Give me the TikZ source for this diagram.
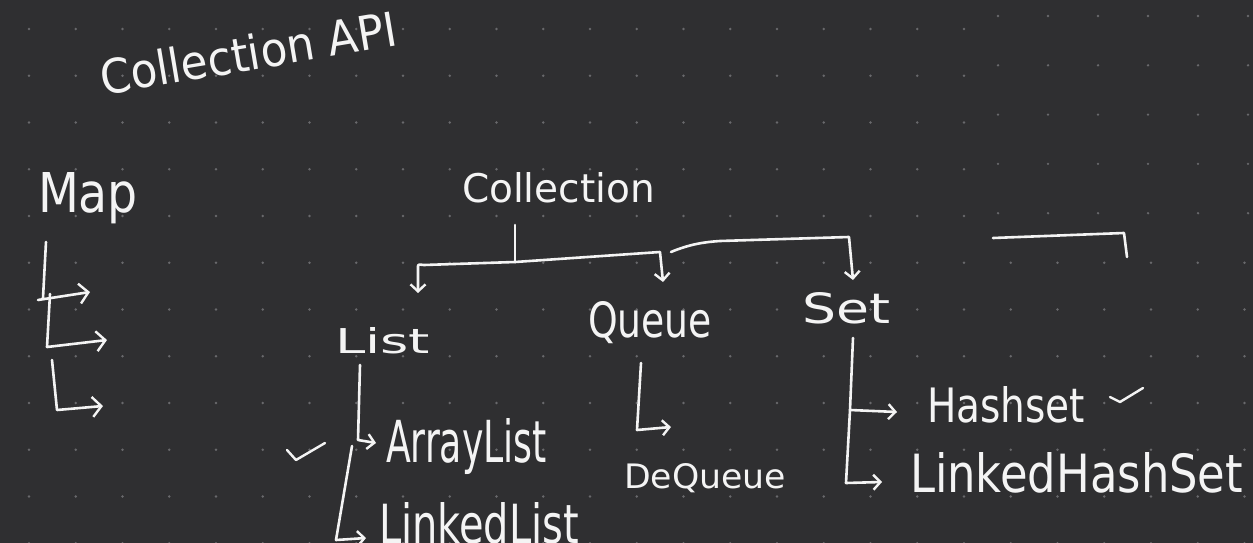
\documentclass[tikz,border=0pt]{standalone}
\usepackage{fontspec}
\setmainfont{DejaVu Sans}
\usetikzlibrary{arrows.meta}
\definecolor{board}{RGB}{47,47,49}
\definecolor{ink}{RGB}{244,244,244}
\definecolor{gridDot}{RGB}{105,105,108}
\tikzset{
  pen/.style={draw=ink, line width=2.6pt, line cap=round, line join=round},
  arr/.style={pen, -{Straight Barb[length=7pt,width=15pt,line width=2.4pt]}},
  bigarr/.style={pen, -{Straight Barb[length=9pt,width=20pt,line width=2.4pt]}},
  lbl/.style={inner sep=0pt, outer sep=0pt, text=ink, anchor=base west},
  tick/.style={pen, line width=2.4pt},
  gdot/.style={fill=gridDot}
}
\newcommand{\hw}[3]{\resizebox{#1pt}{#2pt}{#3}}
\begin{document}
\begin{tikzpicture}[x=1pt,y=-1pt]
\fill[board] (0,0) rectangle (1253,543);
\useasboundingbox (0,0) rectangle (1253,543);
% main dot grid
\foreach \i in {0,...,20}{\foreach \j in {0,...,11}{
  \path[gdot] ({29+46.75*\i},{29+46.75*\j}) circle (1.3pt);}}
\foreach \i in {21,...,26}{\foreach \j in {5,...,11}{
  \path[gdot] ({29+46.75*\i},{29+46.75*\j}) circle (1.3pt);}}
% pasted region at top right, with its own grid
\foreach \i in {0,...,5}{\foreach \j in {0,...,4}{
  \path[gdot] ({998+50*\i},{16+49.3*\j}) circle (1.3pt);}}

% labels
\node[lbl, rotate=9.5] (title) at (103,95) {\hw{300}{36}{Collection API}};
\node[lbl] (map) at (38,212) {\hw{100}{40}{Map}};
\node[lbl] (coll) at (462,202) {\hw{193}{30}{Collection}};
\node[lbl] (list) at (335,353) {\hw{95}{26}{List}};
\node[lbl] (queue) at (588,337) {\hw{124}{36}{Queue}};
\node[lbl] (set) at (802,323) {\hw{88}{31}{Set}};
\node[lbl] (al) at (386,462) {\hw{161}{44}{ArrayList}};
\node[lbl] (ll) at (379,543) {\hw{200}{41}{LinkedList}};
\node[lbl] (dq) at (624,488) {\hw{162}{25}{DeQueue}};
\node[lbl] (hs) at (927,422) {\hw{158}{36}{Hashset}};
\node[lbl] (lhs) at (910,492) {\hw{333}{40}{LinkedHashSet}};

% coordinates for connectors
\coordinate (stemTop) at (515,225);
\coordinate (stemJ) at (515,262);
\coordinate (listBend) at (418,266);
\coordinate (listTip) at (418,293);
\coordinate (queueBend) at (660,252);
\coordinate (queueTip) at (663,282);
\coordinate (setStart) at (671,252);
\coordinate (setMid) at (720,241);
\coordinate (setBend) at (849,237);
\coordinate (setTip) at (853,280);
\coordinate (orA) at (993,238);
\coordinate (orB) at (1124,233);
\coordinate (orC) at (1127,257);

% Collection tree
\draw[pen] (stemTop) -- (stemJ);
\draw[arr] (stemJ) -- (424,265) to[out=180,in=90] (listBend) -- (listTip);
\draw[arr] (stemJ) -- (queueBend) -- (queueTip);
\draw[arr] (setStart) .. controls (690,244) and (705,242) .. (setMid) -- (setBend) -- (setTip);
\draw[pen] (orA) -- (orB) -- (orC);

% Map branches
\coordinate (m1a) at (46,242); \coordinate (m1b) at (43,298);
\coordinate (m1c) at (38,300); \coordinate (m1d) at (90,292);
\coordinate (m2a) at (50,294); \coordinate (m2b) at (47,347); \coordinate (m2c) at (107,340);
\coordinate (m3a) at (52,360); \coordinate (m3b) at (57,410); \coordinate (m3c) at (103,406);
\draw[pen] (m1a) -- (m1b);
\draw[bigarr] (m1c) -- (m1d);
\draw[bigarr] (m2a) -- (m2b) -- (m2c);
\draw[bigarr] (m3a) -- (m3b) -- (m3c);

% List branches
\coordinate (l1) at (360,365); \coordinate (l2) at (358,440); \coordinate (l3) at (376,443);
\coordinate (l4) at (352,446); \coordinate (l5) at (336,540); \coordinate (l6) at (366,538);
\draw[arr] (l1) -- (l2) -- (l3);
\draw[arr] (l4) -- (l5) -- (l6);
\draw[tick] (287,450) -- (296,460) -- (325,443);

% Queue branch
\coordinate (q1) at (641,363); \coordinate (q2) at (637,430); \coordinate (q3) at (671,427);
\draw[arr] (q1) -- (q2) -- (q3);

% Set branches
\coordinate (s1) at (853,338); \coordinate (s2) at (850,410); \coordinate (s3) at (897,412);
\coordinate (s4) at (846,483); \coordinate (s5) at (882,482);
\draw[arr] (s1) -- (s2) -- (s3);
\draw[arr] (s2) -- (s4) -- (s5);
\draw[tick] (1110,397) -- (1120,402) -- (1143,388);
\end{tikzpicture}
\end{document}
